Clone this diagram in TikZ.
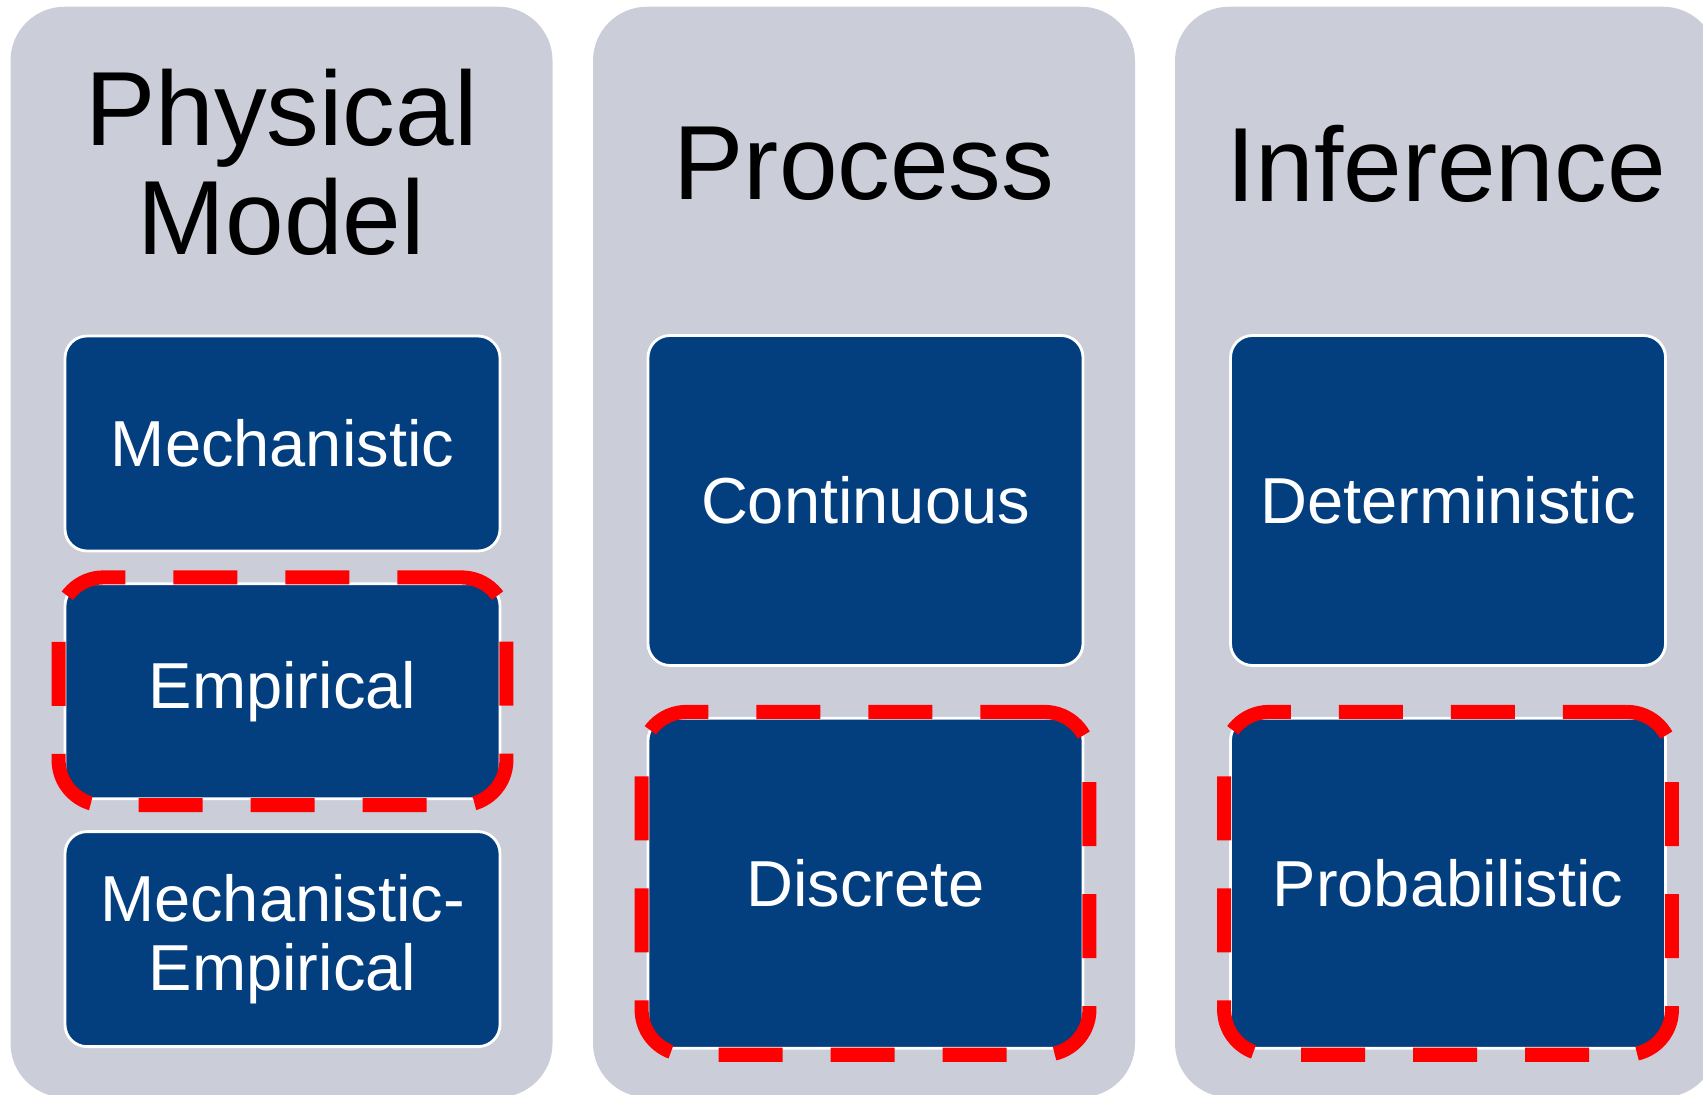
\documentclass[tikz,border=0pt]{standalone}
\usepackage{fontspec}
\setmainfont{Liberation Sans}
\usetikzlibrary{positioning,fit}
\definecolor{panelgray}{RGB}{203,205,217}
\definecolor{boxblue}{RGB}{3,62,126}
\tikzset{
    node distance=0.3cm, % gap between the stacked boxes
    }

\begin{document}
\begin{tikzpicture}[
panelnode/.style={rectangle, fill=panelgray, rounded corners=0.54cm, minimum width=5.42cm, minimum height=10.905cm, inner sep=0pt},
titlenode/.style={align=center, font=\fontsize{30}{31}\selectfont},
boxnode/.style={rectangle, fill=boxblue, draw=white, line width=0.8pt, rounded corners=0.22cm, minimum width=4.35cm, text=white, align=center, font=\fontsize{18.5}{19.5}\selectfont},
smallbox/.style={boxnode, minimum height=2.15cm},
bigbox/.style={boxnode, minimum height=3.3cm},
hilite/.style={rectangle, draw=red, line width=4pt, dash pattern=on 0.64cm off 0.48cm, rounded corners=0.45cm, inner sep=0.05cm},
]
\useasboundingbox[fill=white] (0,0) rectangle (17.03,-10.95);

% columns
\node[panelnode] (physical) at (2.815,-5.52) {};
\node[panelnode] (process) at (8.64,-5.52) {};
\node[panelnode] (inference) at (14.46,-5.52) {};

\node[titlenode] (physicaltitle) at (2.815,-1.62) {Physical\\Model};
\node[titlenode] (processtitle) at (8.64,-1.64) {Process};
\node[titlenode] (inferencetitle) at (14.46,-1.64) {Inference};

% boxes
\node[smallbox] (mech) at (2.825,-4.435) {Mechanistic};
\node[smallbox] (emp) [below=of mech] {Empirical};
\node[smallbox] (mechemp) [below=of emp] {Mechanistic-\\Empirical};

\node[bigbox] (cont) at (8.655,-5.005) {Continuous};
\node[bigbox] (disc) [below=0.5cm of cont] {Discrete};

\node[bigbox] (det) at (14.48,-5.005) {Deterministic};
\node[bigbox] (prob) [below=0.5cm of det] {Probabilistic};

% chosen ones
\node[hilite, fit=(emp)] (empmark) {};
\node[hilite, fit=(disc)] (discmark) {};
\node[hilite, fit=(prob)] (probmark) {};
\end{tikzpicture}
\end{document}
